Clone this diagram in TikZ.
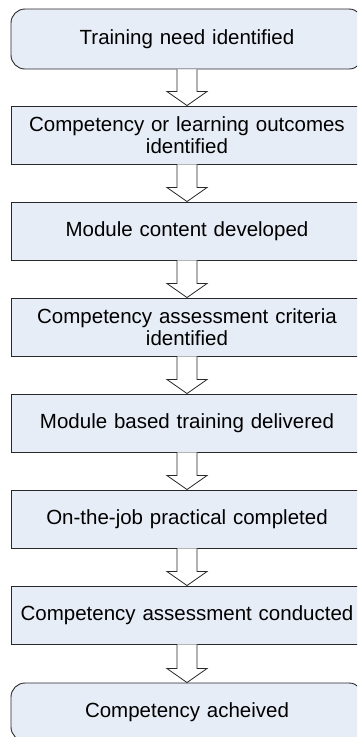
\documentclass[tikz,border=0pt]{standalone}
\usepackage{fontspec}
\setmainfont{Liberation Sans}
\usetikzlibrary{calc}
\definecolor{boxfill}{RGB}{231,237,247}
\definecolor{boxline}{RGB}{40,40,40}
\tikzset{
  stepbox/.style={draw=boxline, line width=0.9pt, fill=boxfill, minimum width=352pt,
    minimum height=58pt, inner sep=0pt, align=center, text width=340pt,
    font=\fontsize{20.5}{21.5}\selectfont},
  endbox/.style={stepbox, rounded corners=14pt},
  barrow/.style={draw=boxline, line width=0.8pt, fill=white, line join=miter}
}
\newcommand\blockarrow[2]{%
  \filldraw[barrow] ($(#1.south)+(-10pt,0)$) -- ($(#2.north)+(-10pt,14pt)$) -- ($(#2.north)+(-20pt,14pt)$)
   -- (#2.north) -- ($(#2.north)+(20pt,14pt)$) -- ($(#2.north)+(10pt,14pt)$) -- ($(#1.south)+(10pt,0)$);}
\begin{document}
\begin{tikzpicture}[x=1pt,y=1pt]
\useasboundingbox (0,0) rectangle (357,-737);
\clip (0,0) rectangle (357,-737);
\node[endbox, minimum height=60pt] (n1) at (187,-39) {Training need identified};
\node[stepbox] (n2) at (187,-135) {Competency or learning outcomes\\identified};
\node[stepbox] (n3) at (187,-231) {Module content developed};
\node[stepbox] (n4) at (187,-327) {Competency assessment criteria\\identified};
\node[stepbox] (n5) at (187,-423) {Module based training delivered};
\node[stepbox] (n6) at (187,-519) {On-the-job practical completed};
\node[stepbox] (n7) at (187,-615) {Competency assessment conducted};
\node[endbox] (n8) at (187,-712) {Competency acheived};
\blockarrow{n1}{n2}
\blockarrow{n2}{n3}
\blockarrow{n3}{n4}
\blockarrow{n4}{n5}
\blockarrow{n5}{n6}
\blockarrow{n6}{n7}
\blockarrow{n7}{n8}
\end{tikzpicture}
\end{document}
